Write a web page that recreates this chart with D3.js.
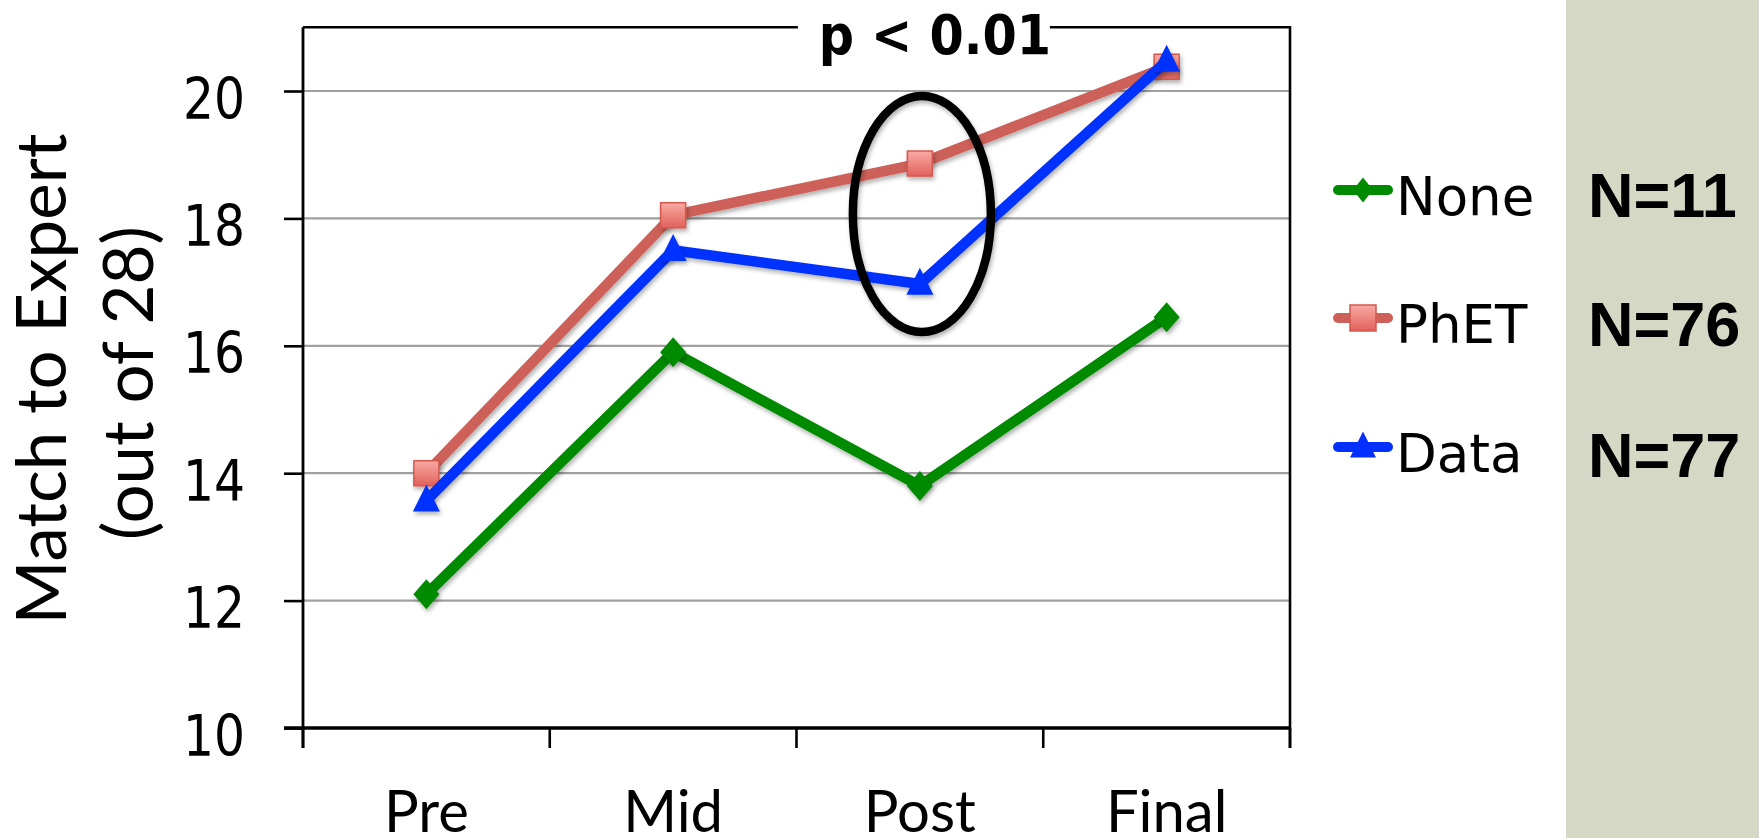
<!DOCTYPE html>
<html>
<head>
<meta charset="utf-8">
<script src="https://cdn.jsdelivr.net/npm/d3@7"></script>
<style>
  body { margin: 0; background: #fff; }
  svg { display: block; }
</style>
</head>
<body>
<div id="chart"></div>
<script>
// values
var categories = ["Pre", "Mid", "Post", "Final"];
var noneValues = [12.1, 15.9, 13.8, 16.45];
var phetValues = [14.0, 18.05, 18.86, 20.38];
var dataValues = [13.57, 17.5, 16.97, 20.47];
var seriesNames = ["None", "PhET", "Data"];
var groupSizes = ["N=11", "N=76", "N=77"];
var yTicks = [10, 12, 14, 16, 18, 20];
var yTitle = ["Match to Expert", "(out of 28)"];
var pLabel = "p < 0.01";
var circledValue = 18.07;   // centre of the ellipse round the Post points

var W = 1759, H = 838;
var margin = {left: 303, right: 1290, top: 27.3, bottom: 728};

var svg = d3.select("#chart").append("svg")
    .attr("width", W)
    .attr("height", H);

var defs = svg.append("defs");
var shadow = defs.append("filter").attr("id", "shadow")
    .attr("x", "-30%").attr("y", "-30%").attr("width", "160%").attr("height", "160%");
shadow.append("feDropShadow")
    .attr("dx", 1.5).attr("dy", 3).attr("stdDeviation", 2)
    .attr("flood-color", "#000").attr("flood-opacity", 0.3);

var grad = defs.append("linearGradient").attr("id", "sq")
    .attr("x1", 0).attr("y1", 0).attr("x2", 0).attr("y2", 1);
grad.append("stop").attr("offset", "0%").attr("stop-color", "#f8aaa4");
grad.append("stop").attr("offset", "100%").attr("stop-color", "#e0625a");

svg.append("rect").attr("width", W).attr("height", H).attr("fill", "#fff");

// squeeze a text horizontally around its own anchor point
function squeeze(sel, sx) {
    sel.each(function() {
        var t = d3.select(this);
        var x = +t.attr("x") || 0;
        t.attr("transform", "translate(" + x + ",0) scale(" + sx + ",1) translate(" + (-x) + ",0)");
    });
}

// scales
var x = d3.scaleBand().domain(categories).range([margin.left, margin.right]);
var y = d3.scaleLinear().domain([10, 21]).range([margin.bottom, margin.top]);
var cx = function(d) { return x(d) + x.bandwidth() / 2; };

// grid lines
svg.append("g").selectAll("line")
    .data(yTicks.filter(function(d) { return d > 10; }))
    .join("line")
    .attr("x1", margin.left).attr("x2", margin.right)
    .attr("y1", function(d) { return y(d); })
    .attr("y2", function(d) { return y(d); })
    .attr("stroke", "#a0a0a0")
    .attr("stroke-width", 2.2);

// frame: top and right
svg.append("path")
    .attr("d", "M" + margin.left + "," + y(21) + "H" + margin.right + "V" + (margin.bottom + 20))
    .attr("fill", "none")
    .attr("stroke", "#000")
    .attr("stroke-width", 2.6);

// y axis
var yAxis = svg.append("g")
    .attr("transform", "translate(" + margin.left + ",0)")
    .call(d3.axisLeft(y).tickValues(yTicks).tickSize(19).tickSizeOuter(0));
yAxis.select(".domain").remove();
yAxis.selectAll(".tick line").attr("stroke", "#000").attr("stroke-width", 2.6);
yAxis.selectAll(".tick text")
    .attr("x", -58)
    .attr("dy", null)
    .attr("y", 27)
    .attr("fill", "#000")
    .style("font-family", "'DejaVu Sans', sans-serif")
    .style("font-size", "56px")
    .call(squeeze, 0.87);
svg.append("line")
    .attr("x1", margin.left).attr("x2", margin.left)
    .attr("y1", y(21)).attr("y2", margin.bottom + 20)
    .attr("stroke", "#000").attr("stroke-width", 2.8);

// x axis
var xAxis = svg.append("g")
    .attr("transform", "translate(0," + margin.bottom + ")")
    .call(d3.axisBottom(x).tickSize(0));
xAxis.select(".domain").remove();
xAxis.selectAll(".tick text")
    .attr("dy", null)
    .attr("y", 104)
    .attr("fill", "#000")
    .style("font-family", "Lato, sans-serif")
    .style("font-size", "58px");
svg.append("line")
    .attr("x1", margin.left - 19).attr("x2", margin.right)
    .attr("y1", margin.bottom).attr("y2", margin.bottom)
    .attr("stroke", "#000").attr("stroke-width", 3.6);
svg.append("g").selectAll("line")
    .data(categories.map(function(d) { return x(d); }).concat([margin.right]))
    .join("line")
    .attr("x1", function(d) { return d; }).attr("x2", function(d) { return d; })
    .attr("y1", margin.bottom).attr("y2", margin.bottom + 20)
    .attr("stroke", "#000").attr("stroke-width", 2.6);

// y title
var titleG = svg.append("g")
    .style("font-family", "Lato, sans-serif")
    .style("font-size", "69px")
    .attr("fill", "#000");
titleG.append("text")
    .attr("transform", "translate(66,379) rotate(-90)")
    .attr("text-anchor", "middle")
    .text(yTitle[0]);
titleG.append("text")
    .attr("transform", "translate(153,383) rotate(-90)")
    .attr("text-anchor", "middle")
    .text(yTitle[1]);

// shapes
function diamond(w, h) { return "M0," + (-h / 2) + "L" + (w / 2) + ",0L0," + (h / 2) + "L" + (-w / 2) + ",0Z"; }
function square(s) { return "M" + (-s / 2) + "," + (-s / 2) + "h" + s + "v" + s + "h" + (-s) + "Z"; }
function triangle(w, h) { return "M0," + (-h * 0.6) + "L" + (w / 2) + "," + (h * 0.4) + "L" + (-w / 2) + "," + (h * 0.4) + "Z"; }

var series = [
    {name: seriesNames[0], values: noneValues, line: "#008a00", fill: "#008a00", stroke: "none", shape: diamond(26, 30), legendShape: diamond(20, 25)},
    {name: seriesNames[1], values: phetValues, line: "#cd6058", fill: "url(#sq)", stroke: "#d4584f", shape: square(25), legendShape: square(26)},
    {name: seriesNames[2], values: dataValues, line: "#0430ff", fill: "#0430ff", stroke: "none", shape: triangle(27, 27), legendShape: triangle(26, 26)}
];

var line = d3.line()
    .x(function(d, i) { return cx(categories[i]); })
    .y(function(d) { return y(d); });

series.forEach(function(s) {
    svg.append("path")
        .datum(s.values)
        .attr("d", line)
        .attr("fill", "none")
        .attr("stroke", s.line)
        .attr("stroke-width", 10.5)
        .attr("stroke-linejoin", "miter")
        .attr("filter", "url(#shadow)");
    svg.append("g").selectAll("path")
        .data(s.values)
        .join("path")
        .attr("d", s.shape)
        .attr("transform", function(d, i) { return "translate(" + cx(categories[i]) + "," + y(d) + ")"; })
        .attr("fill", s.fill)
        .attr("stroke", s.stroke)
        .attr("stroke-width", 1.5)
        .attr("filter", "url(#shadow)");
});

// ellipse round the Post points
svg.append("ellipse")
    .attr("cx", cx("Post") + 2)
    .attr("cy", y(circledValue))
    .attr("rx", 69)
    .attr("ry", 118)
    .attr("fill", "none")
    .attr("stroke", "#000")
    .attr("stroke-width", 8.5)
    .attr("filter", "url(#shadow)");

// p value label sitting on the top frame line
var pX = cx("Post") + 15;
svg.append("rect")
    .attr("x", pX - 137).attr("y", y(21) - 8)
    .attr("width", 252).attr("height", 16)
    .attr("fill", "#fff");
svg.append("text")
    .attr("x", pX).attr("y", 54)
    .attr("text-anchor", "middle")
    .style("font-family", "'DejaVu Sans', sans-serif")
    .style("font-weight", "bold")
    .style("font-size", "56px")
    .text(pLabel)
    .call(squeeze, 0.88);

// legend
var rowBase = [215, 343, 472];
var legend = svg.append("g");
series.forEach(function(s, i) {
    var ly = rowBase[i] - 25;
    legend.append("line")
        .attr("x1", 1338).attr("x2", 1388)
        .attr("y1", ly).attr("y2", ly)
        .attr("stroke", s.line)
        .attr("stroke-width", 10)
        .attr("stroke-linecap", "round");
    legend.append("path")
        .attr("d", s.legendShape)
        .attr("transform", "translate(1363," + ly + ")")
        .attr("fill", s.fill)
        .attr("stroke", s.stroke)
        .attr("stroke-width", 1.5);
    legend.append("text")
        .attr("x", 1396).attr("y", rowBase[i])
        .style("font-family", "'DejaVu Sans', sans-serif")
        .style("font-size", "53px")
        .text(s.name);
});

// sample sizes panel
svg.append("rect")
    .attr("x", 1566).attr("y", 0)
    .attr("width", W - 1566).attr("height", H)
    .attr("fill", "#d5d8c5");
var nBase = [217, 346, 477];
svg.append("g").selectAll("text")
    .data(groupSizes)
    .join("text")
    .attr("x", 1588)
    .attr("y", function(d, i) { return nBase[i]; })
    .style("font-family", "'Liberation Sans', Arial, sans-serif")
    .style("font-weight", "bold")
    .style("font-size", "63px")
    .text(function(d) { return d; });
</script>
</body>
</html>
